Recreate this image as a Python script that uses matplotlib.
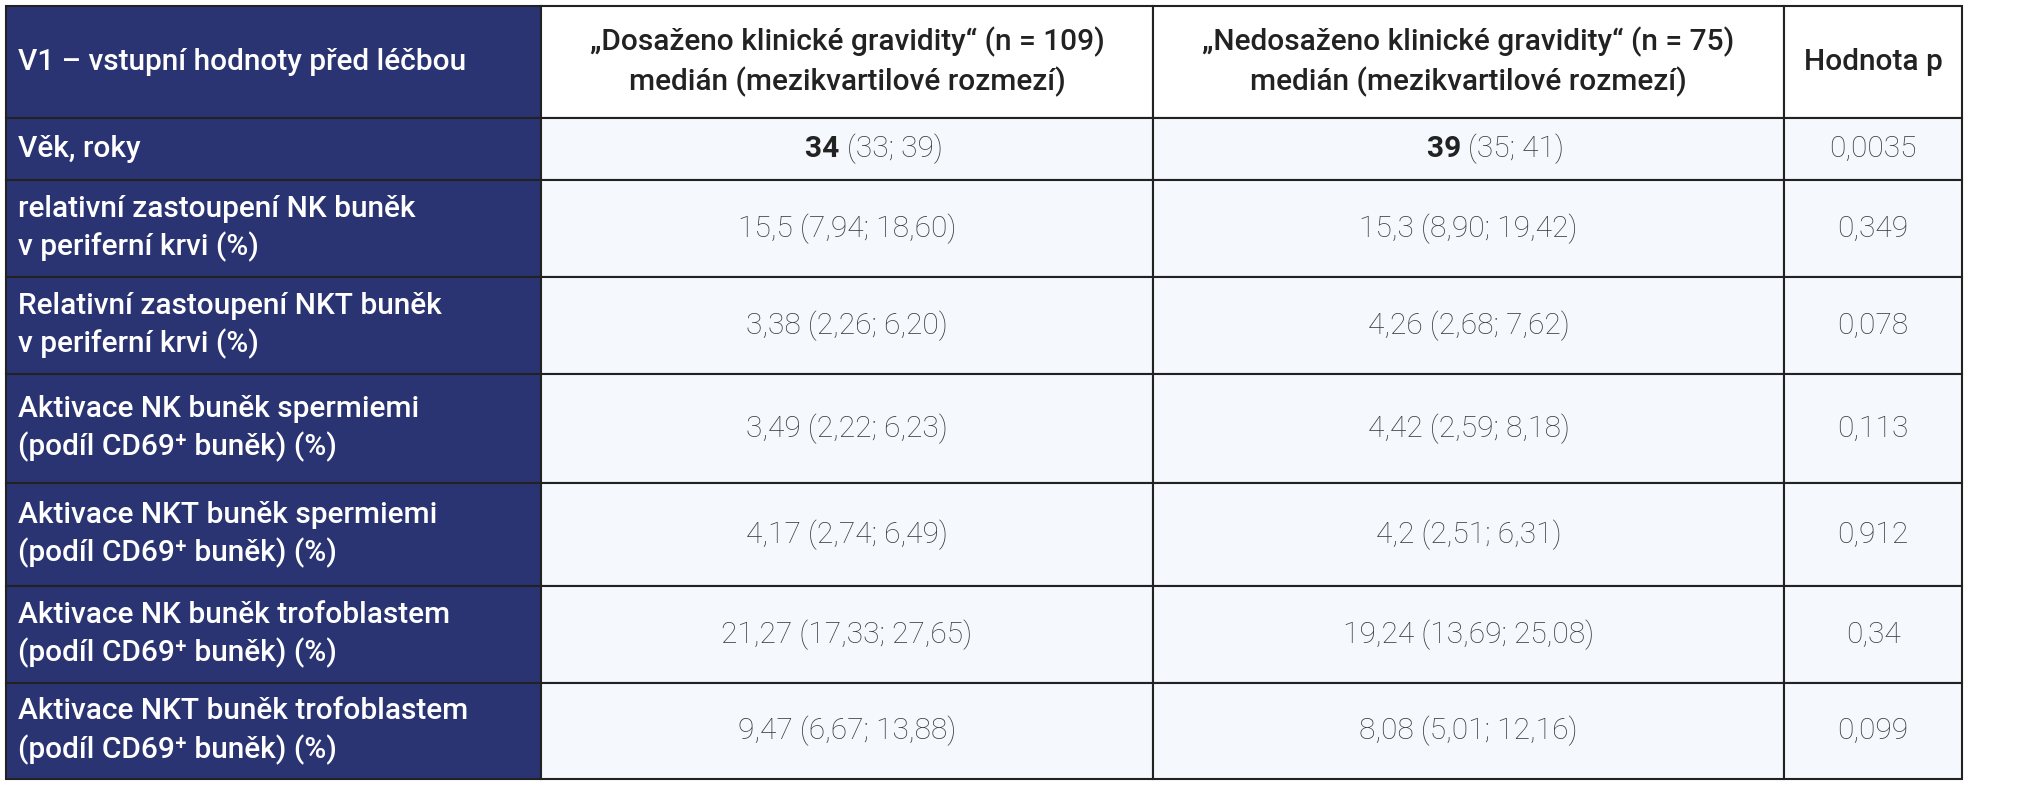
import matplotlib
matplotlib.use("Agg")
import matplotlib.pyplot as plt
from matplotlib.patches import Rectangle

plt.rcParams['font.family'] = ['Roboto', 'DejaVu Sans']

header = ["V1 – vstupní hodnoty před léčbou",
          "„Dosaženo klinické gravidity“ (n = 109)\nmedián (mezikvartilové rozmezí)",
          "„Nedosaženo klinické gravidity“ (n = 75)\nmedián (mezikvartilové rozmezí)",
          "Hodnota p"]
rows = ["Věk, roky",
        "relativní zastoupení NK buněk\nv periferní krvi (%)",
        "Relativní zastoupení NKT buněk\nv periferní krvi (%)",
        "Aktivace NK buněk spermiemi\n(podíl CD69⁺ buněk) (%)",
        "Aktivace NKT buněk spermiemi\n(podíl CD69⁺ buněk) (%)",
        "Aktivace NK buněk trofoblastem\n(podíl CD69⁺ buněk) (%)",
        "Aktivace NKT buněk trofoblastem\n(podíl CD69⁺ buněk) (%)"]
median_a = ["34", "15,5", "3,38", "3,49", "4,17", "21,27", "9,47"]
iqr_a = ["(33; 39)", "(7,94; 18,60)", "(2,26; 6,20)", "(2,22; 6,23)", "(2,74; 6,49)", "(17,33; 27,65)", "(6,67; 13,88)"]
median_b = ["39", "15,3", "4,26", "4,42", "4,2", "19,24", "8,08"]
iqr_b = ["(35; 41)", "(8,90; 19,42)", "(2,68; 7,62)", "(2,59; 8,18)", "(2,51; 6,31)", "(13,69; 25,08)", "(5,01; 12,16)"]
pvals = ["0,0035", "0,349", "0,078", "0,113", "0,912", "0,34", "0,099"]

W, H = 2019, 800
fig = plt.figure(figsize=(W/100, H/100), dpi=100)
ax = fig.add_axes([0, 0, 1, 1])
ax.set_xlim(0, W); ax.set_ylim(H, 0); ax.axis('off')

navy = "#2B3473"; light = "#F5F8FC"; txt = "#3a3a3a"
xs = [6, 541, 1153, 1784, 1962]
ys = [6, 118, 180, 277, 374, 483, 586, 683, 779]
fs = 21.5

for r in range(len(ys)-1):
    for c in range(4):
        x0, x1, y0, y1 = xs[c], xs[c+1], ys[r], ys[r+1]
        fc = navy if c == 0 else ("white" if r == 0 else light)
        ax.add_patch(Rectangle((x0, y0), x1-x0, y1-y0, facecolor=fc, edgecolor="#222222", lw=1.5))
        yc = (y0+y1)/2
        if c == 0:
            t = header[0] if r == 0 else rows[r-1]
            ax.text(x0+12, yc, t, color="white", fontsize=fs, fontweight="medium", va="center", ha="left", linespacing=1.4)
        elif r == 0:
            ax.text((x0+x1)/2, yc, header[c], color="#222222", fontsize=fs, fontweight="medium", va="center", ha="center", linespacing=1.4)
        elif c == 3:
            ax.text((x0+x1)/2, yc, pvals[r-1], color=txt, fontsize=fs, fontweight="light", va="center", ha="center")
        else:
            med = (median_a if c == 1 else median_b)[r-1]
            iq = (iqr_a if c == 1 else iqr_b)[r-1]
            if r == 1:
                xc = (x0+x1)/2
                ax.text(xc, yc, med + " ", color="#222222", fontsize=fs, fontweight="bold", va="center", ha="right")
                ax.text(xc, yc, iq, color=txt, fontsize=fs, fontweight="light", va="center", ha="left")
            else:
                ax.text((x0+x1)/2, yc, med + " " + iq, color=txt, fontsize=fs, fontweight="light", va="center", ha="center")

fig.savefig("out.png", dpi=100, facecolor="white")
